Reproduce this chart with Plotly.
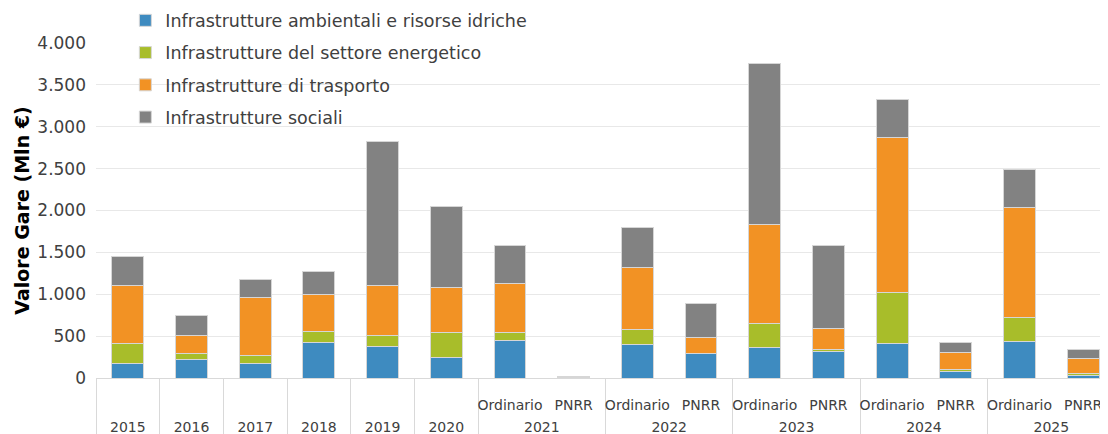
import plotly.graph_objects as go

years = ["2015", "2016", "2017", "2018", "2019", "2020",
         "2021", "2021", "2022", "2022", "2023", "2023",
         "2024", "2024", "2025", "2025"]
types = [" ", "  ", "   ", "    ", "     ", "      ",
         "Ordinario", "PNRR", "Ordinario", "PNRR", "Ordinario", "PNRR",
         "Ordinario", "PNRR", "Ordinario", "PNRR"]

ambientali = [174, 226, 174, 428, 381, 242, 447, 2, 400, 293, 369, 321, 416, 83, 432, 27]
energetico = [242, 63, 100, 131, 131, 301, 100, 1, 175, 5, 285, 19, 603, 20, 289, 28]
trasporto = [686, 223, 685, 444, 590, 540, 583, 3, 749, 187, 1178, 250, 1849, 202, 1317, 183]
sociali = [345, 238, 219, 270, 1718, 967, 453, 8, 473, 408, 1928, 993, 456, 123, 457, 99]

series_names = ["Infrastrutture ambientali e risorse idriche",
                "Infrastrutture del settore energetico",
                "Infrastrutture di trasporto",
                "Infrastrutture sociali"]
series_values = [ambientali, energetico, trasporto, sociali]
colors = ["#3E8BC0", "#A8BD2A", "#F29224", "#828282"]

FONT = "DejaVu Sans"

# outer (year) labels pushed one line down so they sit lower under the inner row
outer = ["<br>" + y for y in years]

fig = go.Figure()
for i, (name, vals, col) in enumerate(zip(series_names, series_values, colors)):
    fig.add_trace(go.Bar(
        x=[outer, types], y=vals, name=name,
        marker=dict(color=col, line=dict(color="#D6D6D6", width=1)),
        legendgroup=f"g{i}",
    ))

fig.update_layout(
    width=1100, height=426,
    barmode="stack", bargap=0.5,
    separators=",.",
    plot_bgcolor="white", paper_bgcolor="white",
    margin=dict(l=88, r=0, t=35, b=56, autoexpand=False),
    font=dict(family=FONT, size=14, color="#404040"),
    showlegend=True,
    legend=dict(
        x=0.029, y=1.121, xanchor="left", yanchor="top",
        bgcolor="rgba(0,0,0,0)", traceorder="grouped", tracegroupgap=6.5,
        font=dict(family=FONT, size=17.5, color="#404040"),
    ),
    yaxis=dict(
        range=[0, 4000], dtick=500, tickformat=",d",
        showgrid=True, gridcolor="#E8E8E8", gridwidth=1,
        zeroline=False, showline=False, ticks="",
        automargin=False, ticklabelstandoff=9,
        tickfont=dict(size=17, color="#404040"),
        title=dict(text="<b>Valore Gare (Mln €)</b>", font=dict(size=19, color="#000000"), standoff=2),
    ),
    xaxis=dict(
        type="multicategory",
        range=[-0.5, 15.39],
        automargin=False, tickangle=0, ticks="", ticklabelstandoff=14,
        showline=True, linecolor="#D9D9D9", linewidth=1,
        showdividers=True, dividercolor="#D9D9D9", dividerwidth=1,
        tickfont=dict(size=14, color="#404040"),
    ),
)

fig.write_html("out.html")
